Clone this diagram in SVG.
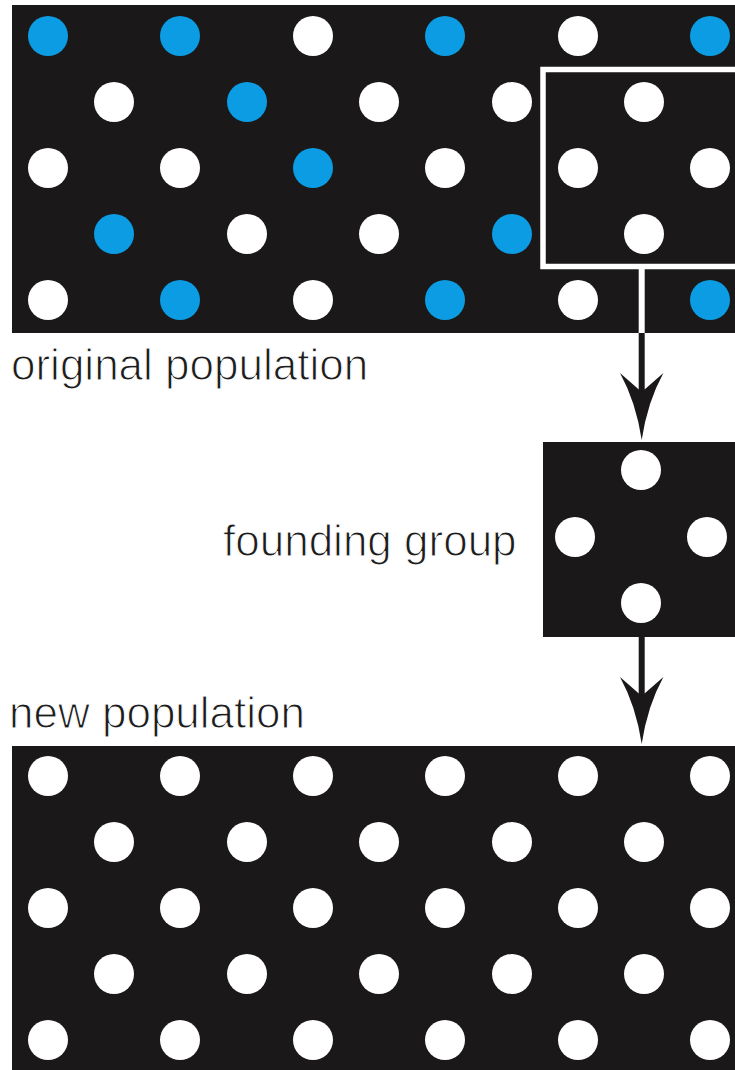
<svg xmlns="http://www.w3.org/2000/svg" width="735" height="1070" viewBox="0 0 735 1070">
  <style>
    .panel { fill: #1a1819; }
    .w { fill: #ffffff; }
    .b { fill: #0b9ce4; }
    /* thin white outline trims the glyph stems to a light weight */
    .label { font-family: "Liberation Sans", Arial, sans-serif; font-size: 44px; fill: #1c1c1c; stroke: #ffffff; stroke-width: 1.1px; }
    .shaft { stroke: #1a1819; stroke-width: 6; fill: none; }
    .head { fill: #1a1819; }
  </style>
  <defs>
    <circle id="d" r="20"/>
  </defs>
  <rect width="735" height="1070" fill="#ffffff"/>

  <!-- original population -->
  <g id="original-population">
    <rect class="panel" x="12" y="5" width="723" height="328"/>
    <!-- row 1 -->
    <use href="#d" x="48" y="36" class="b"/>
    <use href="#d" x="180" y="36" class="b"/>
    <use href="#d" x="313" y="36" class="w"/>
    <use href="#d" x="445" y="36" class="b"/>
    <use href="#d" x="578" y="36" class="w"/>
    <use href="#d" x="710" y="36" class="b"/>
    <!-- row 2 -->
    <use href="#d" x="114" y="102" class="w"/>
    <use href="#d" x="247" y="102" class="b"/>
    <use href="#d" x="379" y="102" class="w"/>
    <use href="#d" x="512" y="102" class="w"/>
    <use href="#d" x="644" y="102" class="w"/>
    <!-- row 3 -->
    <use href="#d" x="48" y="168" class="w"/>
    <use href="#d" x="180" y="168" class="w"/>
    <use href="#d" x="313" y="168" class="b"/>
    <use href="#d" x="445" y="168" class="w"/>
    <use href="#d" x="578" y="168" class="w"/>
    <use href="#d" x="710" y="168" class="w"/>
    <!-- row 4 -->
    <use href="#d" x="114" y="234" class="b"/>
    <use href="#d" x="247" y="234" class="w"/>
    <use href="#d" x="379" y="234" class="w"/>
    <use href="#d" x="512" y="234" class="b"/>
    <use href="#d" x="644" y="234" class="w"/>
    <!-- row 5 -->
    <use href="#d" x="48" y="300" class="w"/>
    <use href="#d" x="180" y="300" class="b"/>
    <use href="#d" x="313" y="300" class="w"/>
    <use href="#d" x="445" y="300" class="b"/>
    <use href="#d" x="578" y="300" class="w"/>
    <use href="#d" x="710" y="300" class="b"/>
    <!-- sampled subset outline -->
    <rect x="543" y="69.5" width="200" height="197" fill="none" stroke="#ffffff" stroke-width="5.5"/>
    <text class="label" x="11" y="380">original population</text>
  </g>

  <!-- founding group -->
  <g id="founding-group">
    <rect class="panel" x="543" y="442" width="192" height="195"/>
    <use href="#d" x="641" y="470" class="w"/>
    <use href="#d" x="575" y="537" class="w"/>
    <use href="#d" x="707" y="537" class="w"/>
    <use href="#d" x="641" y="603" class="w"/>
    <text class="label" x="223" y="556">founding group</text>
  </g>

  <!-- new population -->
  <g id="new-population">
    <rect class="panel" x="12" y="746" width="723" height="324"/>
    <use href="#d" x="48" y="776" class="w"/>
    <use href="#d" x="180" y="776" class="w"/>
    <use href="#d" x="313" y="776" class="w"/>
    <use href="#d" x="445" y="776" class="w"/>
    <use href="#d" x="578" y="776" class="w"/>
    <use href="#d" x="710" y="776" class="w"/>
    <use href="#d" x="114" y="842" class="w"/>
    <use href="#d" x="247" y="842" class="w"/>
    <use href="#d" x="379" y="842" class="w"/>
    <use href="#d" x="512" y="842" class="w"/>
    <use href="#d" x="644" y="842" class="w"/>
    <use href="#d" x="48" y="908" class="w"/>
    <use href="#d" x="180" y="908" class="w"/>
    <use href="#d" x="313" y="908" class="w"/>
    <use href="#d" x="445" y="908" class="w"/>
    <use href="#d" x="578" y="908" class="w"/>
    <use href="#d" x="710" y="908" class="w"/>
    <use href="#d" x="114" y="974" class="w"/>
    <use href="#d" x="247" y="974" class="w"/>
    <use href="#d" x="379" y="974" class="w"/>
    <use href="#d" x="512" y="974" class="w"/>
    <use href="#d" x="644" y="974" class="w"/>
    <use href="#d" x="48" y="1040" class="w"/>
    <use href="#d" x="180" y="1040" class="w"/>
    <use href="#d" x="313" y="1040" class="w"/>
    <use href="#d" x="445" y="1040" class="w"/>
    <use href="#d" x="578" y="1040" class="w"/>
    <use href="#d" x="710" y="1040" class="w"/>
    <text class="label" x="9" y="728">new population</text>
  </g>

  <!-- connectors -->
  <g id="connectors">
    <!-- sample box to founding group -->
    <line x1="641.7" y1="266" x2="641.7" y2="333" stroke="#ffffff" stroke-width="6"/>
    <line class="shaft" x1="641.7" y1="333" x2="641.7" y2="395"/>
    <path class="head" d="M641.7,440 Q636,402 620,373 L641.7,392 L663.4,373 Q647.4,402 641.7,440 Z"/>
    <!-- founding group to new population -->
    <line class="shaft" x1="641.7" y1="637" x2="641.7" y2="698"/>
    <path class="head" d="M641.7,744 Q636,706 620,677 L641.7,696 L663.4,677 Q647.4,706 641.7,744 Z"/>
  </g>
</svg>
